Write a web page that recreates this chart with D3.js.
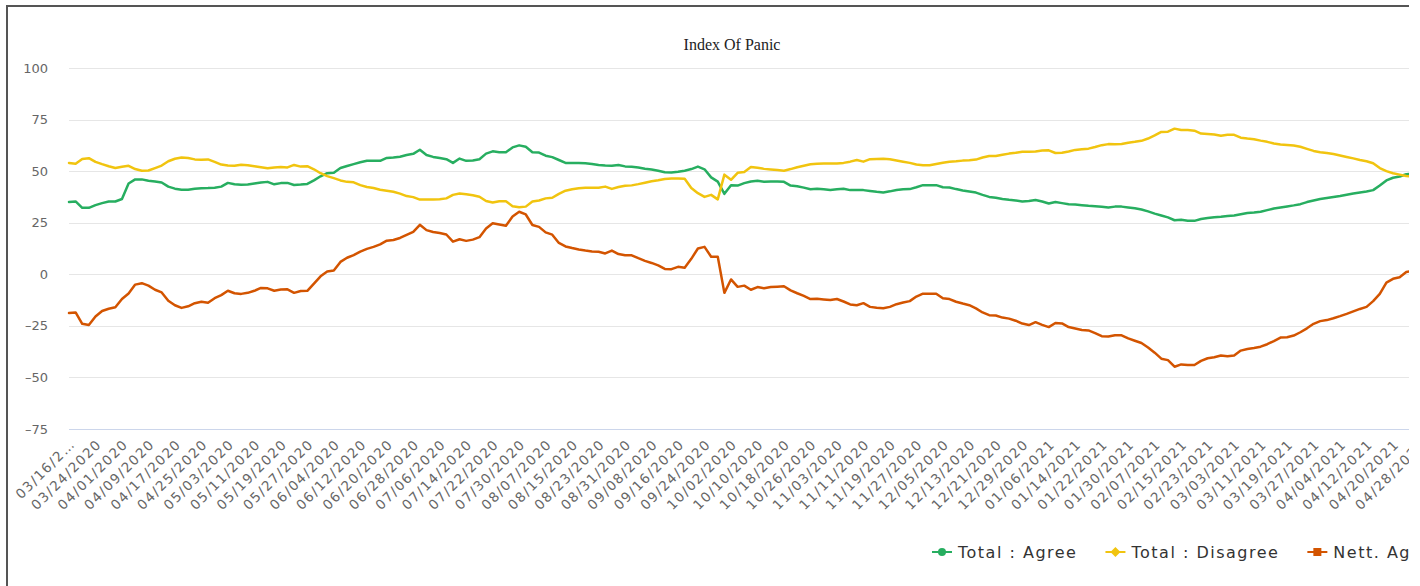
<!doctype html>
<html lang="en">
<head>
<meta charset="utf-8">
<title>Index Of Panic</title>
<script src="https://cdn.jsdelivr.net/npm/d3@7"></script>
<style>
  body { margin: 0; background: #fff; }
  svg { display: block; }
  .axis-label { font-family: "DejaVu Sans", sans-serif; font-size: 13px; fill: #666; }
  .xlab { font-size: 13.5px; letter-spacing: 1.5px; }
  .legend-label { font-family: "DejaVu Sans", sans-serif; font-size: 16px; fill: #333; letter-spacing: 1.5px; }
</style>
</head>
<body>
<div id="chart"></div>
<script>
// series
var seriesNames = ["Total : Agree", "Total : Disagree", "Nett. Agree"];
var seriesColors = ["#27ae60", "#f1c40f", "#d35400"];
var seriesMarkers = ["circle", "diamond", "square"];

var startDate = "03/16/2020";  // first reading
var stepDays = 2;              // one reading every 2 days

var agree = [
  35.1, 35.3, 32.2, 32.2, 33.5, 34.5, 35.3, 35.3, 36.5, 44.0,
  46.0, 46.0, 45.3, 45.0, 44.5, 42.5, 41.5, 41.0, 41.0, 41.5,
  41.7, 41.8, 42.0, 42.5, 44.3, 43.6, 43.4, 43.5, 44.0, 44.5,
  44.8, 43.6, 44.2, 44.3, 43.3, 43.5, 43.8, 45.5, 47.5, 49.0,
  49.2, 51.5, 52.5, 53.4, 54.3, 55.0, 55.0, 55.0, 56.4, 56.6,
  57.0, 57.8, 58.4, 60.4, 57.8, 56.9, 56.4, 55.8, 54.0, 56.1,
  55.0, 55.2, 55.8, 58.5, 59.6, 59.2, 59.2, 61.5, 62.5, 61.8,
  59.2, 59.0, 57.5, 56.8, 55.4, 54.0, 54.0, 54.0, 53.8, 53.5,
  53.0, 52.7, 52.6, 53.0, 52.3, 52.1, 51.8, 51.2, 50.8, 50.2,
  49.5, 49.3, 49.7, 50.2, 51.0, 52.2, 50.9, 47.0, 44.9, 39.0,
  43.2, 43.0, 44.2, 45.0, 45.3, 44.9, 45.0, 45.0, 44.8, 43.0,
  42.7, 42.0, 41.2, 41.5, 41.2, 40.9, 41.2, 41.5, 40.8, 40.8,
  40.8, 40.4, 40.0, 39.7, 40.2, 40.9, 41.2, 41.3, 42.2, 43.2,
  43.2, 43.2, 42.2, 42.1, 41.3, 40.6, 40.1, 39.6, 38.5, 37.5,
  37.1, 36.5, 36.1, 35.8, 35.3, 35.5, 36.0, 35.3, 34.3, 35.0,
  34.5, 34.0, 33.8, 33.5, 33.2, 33.0, 32.7, 32.4, 32.8, 32.8,
  32.4, 32.0, 31.4, 30.5, 29.4, 28.5, 27.6, 26.2, 26.4, 26.0,
  25.9, 26.8, 27.3, 27.7, 27.9, 28.2, 28.5, 29.1, 29.7, 29.9,
  30.3, 31.1, 31.9, 32.4, 32.9, 33.4, 34.0, 35.0, 35.8, 36.5,
  37.0, 37.5, 38.0, 38.6, 39.2, 39.7, 40.1, 40.8, 43.0, 45.5,
  46.8, 47.4, 48.5, 48.9
];

var disagree = [
  54.0, 53.6, 55.9, 56.3, 54.5, 53.4, 52.4, 51.5, 52.1, 52.6,
  51.0, 50.2, 50.3, 51.5, 52.7, 54.8, 56.0, 56.6, 56.4, 55.7,
  55.5, 55.7, 54.5, 53.2, 52.7, 52.6, 53.1, 52.9, 52.4, 51.9,
  51.4, 51.8, 52.0, 51.8, 53.0, 52.2, 52.4, 50.9, 49.0, 47.6,
  46.6, 45.5, 44.8, 44.6, 43.2, 42.3, 41.8, 41.0, 40.5, 40.0,
  39.1, 37.9, 37.4, 36.2, 36.2, 36.2, 36.4, 36.8, 38.5, 39.2,
  38.8, 38.3, 37.6, 35.5, 34.8, 35.4, 35.4, 33.0, 32.5, 32.8,
  35.3, 35.8, 36.8, 37.1, 39.0, 40.5, 41.2, 41.7, 41.9, 41.9,
  42.0, 42.5, 41.4, 42.3, 42.9, 43.1, 43.7, 44.4, 45.1, 45.6,
  46.2, 46.4, 46.4, 46.3, 41.8, 39.3, 37.5, 38.5, 36.3, 48.3,
  45.8, 49.2, 49.6, 52.0, 51.6, 51.1, 50.8, 50.5, 50.2, 51.0,
  51.9, 52.6, 53.3, 53.6, 53.7, 53.7, 53.7, 54.0, 54.6, 55.4,
  54.6, 55.8, 55.9, 56.0, 55.8, 55.2, 54.6, 54.0, 53.2, 52.9,
  52.9, 53.5, 54.1, 54.6, 54.8, 55.1, 55.3, 55.6, 56.6, 57.3,
  57.3, 57.9, 58.5, 58.9, 59.4, 59.4, 59.5, 60.0, 60.1, 58.8,
  58.9, 59.5, 60.3, 60.6, 60.9, 61.7, 62.6, 63.1, 63.0, 63.2,
  63.8, 64.2, 64.7, 65.8, 67.3, 69.0, 69.1, 70.6, 69.9, 69.9,
  69.6, 68.2, 68.0, 67.8, 67.2, 67.6, 67.6, 66.2, 65.8, 65.5,
  64.8, 64.2, 63.4, 62.9, 62.7, 62.4, 61.8, 60.8, 59.8, 59.2,
  58.8, 58.3, 57.6, 56.9, 56.2, 55.4, 54.8, 53.8, 51.5, 50.0,
  49.0, 48.3, 47.6, 47.3
];

var nett = [
  -18.8, -18.5, -24.0, -24.6, -20.5, -17.8, -16.7, -16.0, -12.0, -9.3,
  -5.0, -4.3, -5.5, -7.5, -8.8, -12.8, -15.0, -16.3, -15.5, -14.0,
  -13.3, -13.8, -11.6, -10.1, -8.0, -9.2, -9.5, -9.0, -8.0, -6.6,
  -6.8, -8.0, -7.4, -7.3, -9.0, -8.1, -8.0, -4.5, -1.0, 1.3,
  1.8, 6.0, 8.0, 9.3, 11.0, 12.3, 13.3, 14.5, 16.3, 16.6,
  17.6, 19.1, 20.6, 24.0, 21.4, 20.5, 20.0, 19.3, 15.8, 17.0,
  16.2, 16.8, 18.0, 22.2, 24.7, 24.1, 23.5, 28.0, 30.3, 29.0,
  23.9, 23.0, 20.3, 19.2, 15.2, 13.5, 12.7, 12.0, 11.5, 11.1,
  10.9, 10.1, 11.5, 9.8, 9.2, 9.2, 7.8, 6.5, 5.5, 4.3,
  2.6, 2.5, 3.6, 3.2, 7.5, 12.5, 13.3, 8.5, 8.5, -9.0,
  -2.5, -6.1, -5.5, -7.5, -6.2, -6.8, -6.2, -6.0, -5.8, -7.8,
  -9.2, -10.5, -12.0, -11.9, -12.2, -12.5, -12.0, -13.2, -14.6, -15.0,
  -14.0, -15.8, -16.2, -16.5, -15.8, -14.5, -13.7, -13.0, -10.8, -9.4,
  -9.4, -9.4, -11.6, -12.0, -13.3, -14.2, -15.0, -16.5, -18.5, -19.8,
  -20.0, -21.0, -21.5, -22.5, -23.9, -24.6, -23.2, -24.5, -25.6, -23.6,
  -23.8, -25.6, -26.3, -27.0, -27.2, -28.5, -30.0, -30.2, -29.6, -29.6,
  -31.1, -32.2, -33.3, -35.5, -38.0, -40.9, -41.6, -44.8, -43.7, -44.0,
  -44.0, -42.0, -40.7, -40.2, -39.4, -39.7, -39.4, -37.0, -36.2, -35.7,
  -35.1, -33.9, -32.4, -30.7, -30.5, -29.7, -28.1, -26.2, -24.0, -22.7,
  -22.2, -21.3, -20.3, -19.2, -18.0, -16.8, -15.8, -13.0, -9.5, -4.0,
  -2.2, -1.4, 1.1, 1.8
];

var yTicks = [100, 75, 50, 25, 0, -25, -50, -75];

var xTickLabels = [
  "03/16/2020", "03/24/2020", "04/01/2020", "04/09/2020", "04/17/2020", "04/25/2020",
  "05/03/2020", "05/11/2020", "05/19/2020", "05/27/2020", "06/04/2020", "06/12/2020",
  "06/20/2020", "06/28/2020", "07/06/2020", "07/14/2020", "07/22/2020", "07/30/2020",
  "08/07/2020", "08/15/2020", "08/23/2020", "08/31/2020", "09/08/2020", "09/16/2020",
  "09/24/2020", "10/02/2020", "10/10/2020", "10/18/2020", "10/26/2020", "11/03/2020",
  "11/11/2020", "11/19/2020", "11/27/2020", "12/05/2020", "12/13/2020", "12/21/2020",
  "12/29/2020", "01/06/2021", "01/14/2021", "01/22/2021", "01/30/2021", "02/07/2021",
  "02/15/2021", "02/23/2021", "03/03/2021", "03/11/2021", "03/19/2021", "03/27/2021",
  "04/04/2021", "04/12/2021", "04/20/2021", "04/28/2021"
];

var W = 1420, H = 586;
var boxRight = 1409;   // the chart box is cut off here

var svg = d3.select("#chart").append("svg")
  .attr("width", W)
  .attr("height", H);

svg.append("clipPath").attr("id", "box")
  .append("rect")
  .attr("x", 8).attr("y", 7)
  .attr("width", boxRight - 8).attr("height", H);

var g = svg.append("g").attr("clip-path", "url(#box)");

var parse = d3.utcParse("%m/%d/%Y");
var t0 = parse(startDate);
var dates = agree.map(function(d, i) { return d3.utcDay.offset(t0, i * stepDays); });

// plot runs past the visible edge of the box
var x = d3.scaleUtc()
  .domain([t0, parse(xTickLabels[xTickLabels.length - 1])])
  .range([69, 1419.5]);

var y = d3.scaleLinear()
  .domain([-75, 100])
  .range([429, 68]);

// title
g.append("text")
  .attr("x", 732)
  .attr("y", 50)
  .attr("text-anchor", "middle")
  .attr("font-family", "Liberation Serif, serif")
  .attr("font-size", "16px")
  .attr("fill", "#222")
  .text("Index Of Panic");

// grid lines
g.selectAll(".grid")
  .data(yTicks)
  .enter().append("line")
  .attr("class", "grid")
  .attr("x1", 69)
  .attr("x2", W)
  .attr("y1", function(d) { return Math.round(y(d)) + 0.5; })
  .attr("y2", function(d) { return Math.round(y(d)) + 0.5; })
  .attr("stroke", function(d) { return d === -75 ? "#ccd6eb" : "#e6e6e6"; })
  .attr("stroke-width", 1);

// y labels
g.selectAll(".ylab")
  .data(yTicks)
  .enter().append("text")
  .attr("class", "axis-label ylab")
  .attr("x", 48)
  .attr("y", function(d) { return y(d) + 4.5; })
  .attr("text-anchor", "end")
  .text(function(d) { return String(d).replace("-", "\u2013"); });

// x labels, rotated
g.selectAll(".xlab")
  .data(xTickLabels)
  .enter().append("text")
  .attr("class", "axis-label xlab")
  .attr("text-anchor", "end")
  .attr("transform", function(d) {
    return "translate(" + (x(parse(d)) + 7) + ",445) rotate(-45)";
  })
  .text(function(d, i) { return i === 0 ? d.slice(0, 7) + "\u2026" : d; });

// lines
var series = [agree, disagree, nett];
var line = d3.line()
  .x(function(d, i) { return x(dates[i]); })
  .y(function(d) { return y(d); });

series.forEach(function(values, k) {
  g.append("path")
    .datum(values)
    .attr("fill", "none")
    .attr("stroke", seriesColors[k])
    .attr("stroke-width", 2.5)
    .attr("stroke-linejoin", "round")
    .attr("stroke-linecap", "round")
    .attr("d", line);
});

// legend
var lx = 932, ly = 552;
seriesNames.forEach(function(name, k) {
  var item = g.append("g").attr("transform", "translate(" + lx + "," + ly + ")");
  item.append("line")
    .attr("x1", 0).attr("x2", 20)
    .attr("y1", 0).attr("y2", 0)
    .attr("stroke", seriesColors[k])
    .attr("stroke-width", 2);
  if (seriesMarkers[k] === "circle") {
    item.append("circle").attr("cx", 10).attr("cy", 0).attr("r", 4).attr("fill", seriesColors[k]);
  } else if (seriesMarkers[k] === "diamond") {
    item.append("path").attr("d", "M10,-5L15,0L10,5L5,0Z").attr("fill", seriesColors[k]);
  } else {
    item.append("rect").attr("x", 6).attr("y", -4).attr("width", 8).attr("height", 8).attr("fill", seriesColors[k]);
  }
  var t = item.append("text")
    .attr("class", "legend-label")
    .attr("x", 26)
    .attr("y", 5.5)
    .text(name);
  lx += 26 + t.node().getComputedTextLength() + 28;
});

// frame edges (left and top)
svg.append("line")
  .attr("x1", 7).attr("x2", 7)
  .attr("y1", 5).attr("y2", H)
  .attr("stroke", "#555").attr("stroke-width", 2);
svg.append("line")
  .attr("x1", 6).attr("x2", boxRight)
  .attr("y1", 6).attr("y2", 6)
  .attr("stroke", "#555").attr("stroke-width", 2);
</script>
</body>
</html>
